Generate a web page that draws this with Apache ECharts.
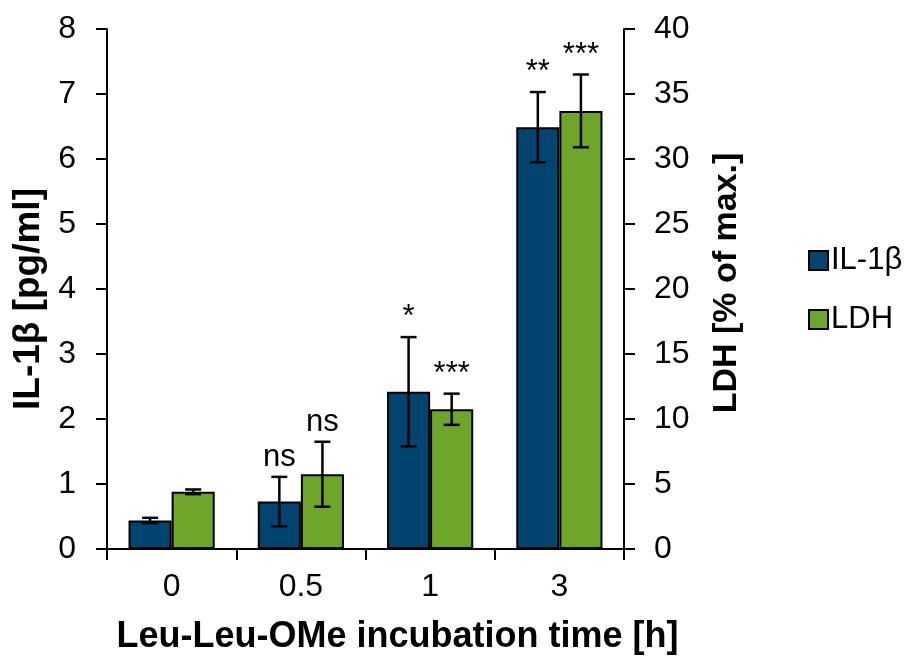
<!DOCTYPE html>
<html>
<head>
<meta charset="utf-8">
<script src="https://cdn.jsdelivr.net/npm/echarts@6/dist/echarts.min.js"></script>
<style>
html,body{margin:0;padding:0;background:#fff;}
#main{width:914px;height:660px;}
</style>
</head>
<body>
<div id="main"></div>
<script>
// 横轴
var times=['0','0.5','1','3'];
// IL-1β [pg/ml]
var il1b=[0.44,0.73,2.42,6.49];
var il1bErr=[0.04,0.38,0.84,0.54];
var il1bSig=['','ns','*','**'];
// LDH [% of max.]
var ldh=[4.4,5.75,10.75,33.7];
var ldhErr=[0.18,2.5,1.2,2.8];
var ldhSig=['','ns','***','***'];

var blue='#00446f';
var green='#6ea629';
var font='Liberation Sans, Arial, sans-serif';

var myChart=echarts.init(document.getElementById('main'));

// 误差线 + 显著性标记
function errSeries(name,vals,errs,sigs,axisIdx,side){
	var data=[];
	for(var i=0;i<vals.length;i++){
		data.push([i,vals[i],errs[i],sigs[i]]);
	}
	return {
		name:name+'_err',
		type:'custom',
		yAxisIndex:axisIdx,
		z:5,
		silent:true,
		data:data,
		renderItem:function(params,api){
			var idx=api.value(0);
			var v=api.value(1);
			var e=api.value(2);
			var sig=data[params.dataIndex][3];
			var band=api.size([1,0])[0];
			var cx=api.coord([idx,v])[0]+side*band/6;
			var hi=api.coord([idx,v+e])[1];
			var lo=api.coord([idx,v-e])[1];
			var cap=8;
			var st={stroke:'#000',lineWidth:2.5};
			var children=[
				{type:'line',shape:{x1:cx,y1:hi,x2:cx,y2:lo},style:st},
				{type:'line',shape:{x1:cx-cap,y1:hi,x2:cx+cap,y2:hi},style:st},
				{type:'line',shape:{x1:cx-cap,y1:lo,x2:cx+cap,y2:lo},style:st}
			];
			if(sig){
				children.push({type:'text',style:{text:sig,x:cx,y:hi-4,align:'center',verticalAlign:'bottom',
					font:'31px '+font,fill:'#000'}});
			}
			return {type:'group',children:children};
		}
	};
}

var option={
	backgroundColor:'#fff',
	animation:false,
	textStyle:{fontFamily:font},
	grid:{left:107,right:290,top:29,bottom:111,containLabel:false},
	legend:{
		orient:'vertical',
		left:803,
		top:240,
		itemWidth:19,
		itemHeight:19,
		itemGap:28,
		icon:'rect',
		data:['IL-1β','LDH'],
		textStyle:{fontSize:31,color:'#000',fontFamily:font,padding:[0,0,0,-2]}
	},
	xAxis:{
		type:'category',
		data:times,
		name:'Leu-Leu-OMe incubation time [h]',
		nameLocation:'middle',
		nameGap:70,
		nameTextStyle:{fontSize:36,fontWeight:'bold',color:'#000',padding:[0,0,0,64]},
		axisLine:{lineStyle:{color:'#000',width:2}},
		axisTick:{show:true,length:11,lineStyle:{color:'#000',width:2}},
		axisLabel:{fontSize:32,color:'#000',margin:22}
	},
	yAxis:[{
		type:'value',
		min:0,max:8,interval:1,
		name:'IL-1β [pg/ml]',
		nameLocation:'middle',
		nameGap:60,
		nameTextStyle:{fontSize:37,fontWeight:'bold',color:'#000',padding:[0,20,0,0]},
		axisLine:{show:true,lineStyle:{color:'#000',width:2}},
		axisTick:{show:true,length:11,lineStyle:{color:'#000',width:2}},
		axisLabel:{fontSize:32,color:'#000',margin:31},
		splitLine:{show:false}
	},{
		type:'value',
		min:0,max:40,interval:5,
		position:'right',
		name:'LDH [% of max.]',
		nameLocation:'middle',
		nameGap:86,
		nameTextStyle:{fontSize:34,fontWeight:'bold',color:'#000',padding:[0,0,0,12]},
		axisLine:{show:true,lineStyle:{color:'#000',width:2}},
		axisTick:{show:true,length:11,lineStyle:{color:'#000',width:2}},
		axisLabel:{fontSize:32,color:'#000',margin:30},
		splitLine:{show:false}
	}],
	series:[{
		name:'IL-1β',
		type:'bar',
		yAxisIndex:0,
		data:il1b,
		barGap:'0%',
		barCategoryGap:'33.3%',
		itemStyle:{color:blue,borderColor:'#000',borderWidth:2}
	},{
		name:'LDH',
		type:'bar',
		yAxisIndex:1,
		data:ldh,
		barGap:'0%',
		barCategoryGap:'33.3%',
		itemStyle:{color:green,borderColor:'#000',borderWidth:2}
	},
	errSeries('IL-1β',il1b,il1bErr,il1bSig,0,-1),
	errSeries('LDH',ldh,ldhErr,ldhSig,1,1)
	]
};
myChart.setOption(option);
</script>
</body>
</html>
